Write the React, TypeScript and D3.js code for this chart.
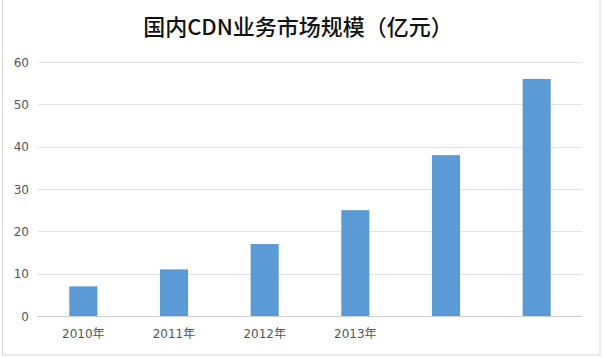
import React from "react";
import * as d3 from "d3";

const categories = ["2010年", "2011年", "2012年", "2013年", "", ""];
const values = [7, 11, 17, 25, 38, 56];
const yTicks = [0, 10, 20, 30, 40, 50, 60];
const title = "国内CDN业务市场规模（亿元）";

export default function App() {
  const W = 602, H = 358;
  const left = 38, right = 582, top = 62, bottom = 316;
  const x = d3.scaleBand<number>().domain(d3.range(categories.length)).range([left, right]).paddingInner(0.69).paddingOuter(0.345);
  const y = d3.scaleLinear().domain([0, 60]).range([bottom, top]);
  return (
    <svg width={W} height={H} style={{ position: "absolute", left: 0, top: 0, background: "#fff" }}>
      <rect x={2.5} y={-1} width={597.5} height={356} fill="none" stroke="#d9d9d9" strokeWidth={1} />
      <text x={298} y={35} textAnchor="middle" fontFamily="'Noto Sans CJK SC', sans-serif" fontWeight={500} fontSize={22} fill="#111">{title}</text>
      {yTicks.map((t) => (
        <g key={t}>
          <line x1={left} x2={right} y1={Math.round(y(t)) + 0.5} y2={Math.round(y(t)) + 0.5} stroke={t === 0 ? "#cfcfcf" : "#e2e2e2"} strokeWidth={1} />
          <text x={29} y={y(t) + 4.5} textAnchor="end" fontFamily="'DejaVu Sans', sans-serif" fontSize={12} fill="#555">{t}</text>
        </g>
      ))}
      {values.map((v, i) => (
        <rect key={i} x={x(i)} y={y(v)} width={x.bandwidth()} height={bottom - y(v)} fill="#5b9bd5" />
      ))}
      {categories.map((c, i) => (
        <text key={i} x={(x(i) as number) + x.bandwidth() / 2} y={338} textAnchor="middle" fontFamily="'DejaVu Sans', 'Noto Sans CJK SC', sans-serif" fontSize={12} fill="#555">{c}</text>
      ))}
    </svg>
  );
}
